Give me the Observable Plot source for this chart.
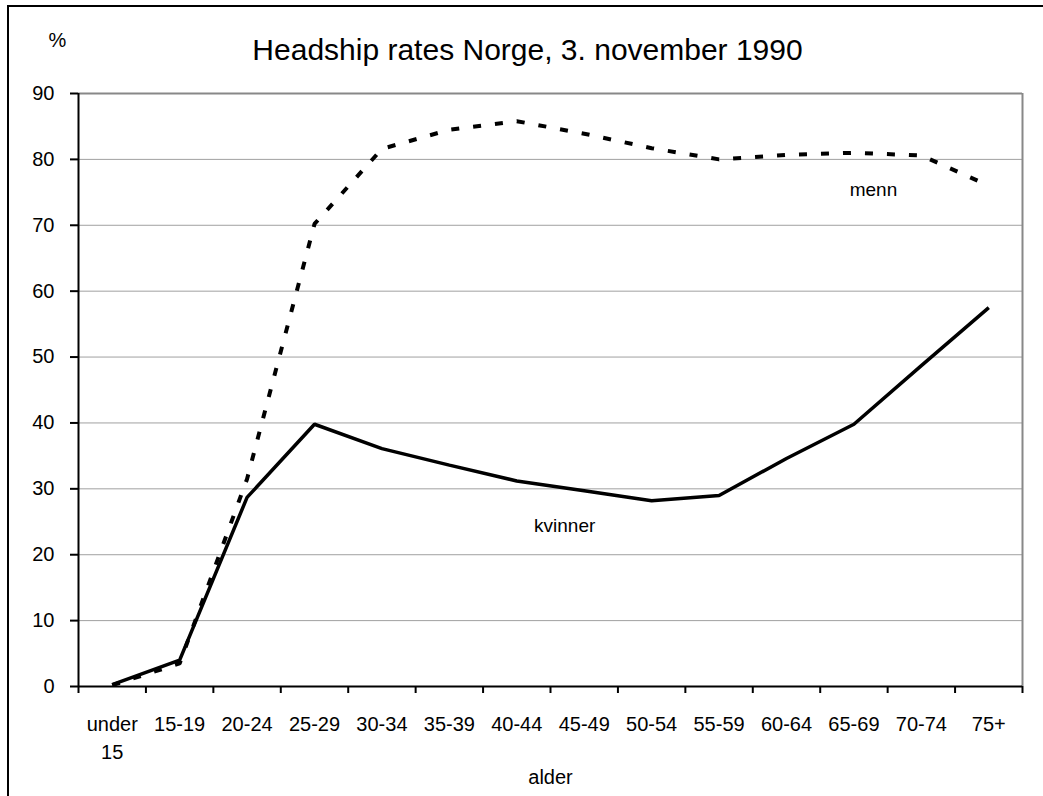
<!DOCTYPE html>
<html>
<head>
<meta charset="utf-8">
<script src="https://cdn.jsdelivr.net/npm/d3@7"></script>
<script src="https://cdn.jsdelivr.net/npm/@observablehq/plot@0.6"></script>
<style>
  html, body { margin: 0; padding: 0; background: white; }
  #wrap { position: relative; width: 1043px; height: 796px; overflow: hidden; }
  #border { position: absolute; left: 7px; top: 5px; width: 1100px; height: 900px; border: 2.5px solid black; box-sizing: border-box; pointer-events: none; }
</style>
</head>
<body>
<div id="wrap"><div id="border"></div></div>
<script>
const title = "Headship rates Norge, 3. november 1990";
const yUnit = "%";
const xTitle = "alder";
const ageGroups = ["under 15", "15-19", "20-24", "25-29", "30-34", "35-39", "40-44", "45-49", "50-54", "55-59", "60-64", "65-69", "70-74", "75+"];
const menn    = [0.2, 3.5, 31.5, 70.2, 81.6, 84.5, 85.8, 83.9, 81.7, 80.0, 80.7, 81.0, 80.6, 76.0];
const kvinner = [0.3, 4.0, 28.7, 39.8, 36.1, 33.6, 31.2, 29.7, 28.2, 29.0, 34.6, 39.8, 48.7, 57.5];
const yTicks = [0, 10, 20, 30, 40, 50, 60, 70, 80, 90];
const seriesLabels = [
  {name: "menn", x: 11.29, y: 75.4},
  {name: "kvinner", x: 6.71, y: 24.3}
];

const idx = ageGroups.map((_, i) => i);
const boundaries = ageGroups.map((_, i) => i - 0.5).concat([ageGroups.length - 0.5]);
const mennData = menn.map((v, i) => ({i, v}));
const kvinnerData = kvinner.map((v, i) => ({i, v}));
const font = "'Liberation Sans', Arial, sans-serif";

const chart = Plot.plot({
  width: 1043,
  height: 796,
  marginLeft: 78,
  marginRight: 21,
  marginTop: 93,
  marginBottom: 110,
  style: {fontFamily: font, fontSize: "20px", color: "black", background: "transparent", overflow: "visible"},
  x: {type: "linear", domain: [-0.5, ageGroups.length - 0.5]},
  y: {domain: [0, 90]},
  marks: [
    Plot.ruleY(yTicks.filter(t => t > 0 && t < 90), {stroke: "#a0a0a0", strokeWidth: 1}),
    Plot.ruleY([90], {stroke: "#888", strokeWidth: 2}),
    Plot.ruleX([ageGroups.length - 0.5], {stroke: "#888", strokeWidth: 2}),
    Plot.axisY(yTicks, {tickSize: 8, tickPadding: 16, strokeWidth: 2, label: null, fontSize: 20}),
    Plot.axisX(boundaries, {tickSize: 7, strokeWidth: 2, tickFormat: () => "", label: null}),
    Plot.axisX(idx, {tickSize: 0, tickPadding: 25, tickFormat: i => ageGroups[i].replace(" ", "\n"), lineHeight: 1.4, label: null, fontSize: 20}),
    Plot.ruleX([-0.5], {stroke: "black", strokeWidth: 2}),
    Plot.ruleY([0], {stroke: "black", strokeWidth: 2}),
    Plot.line(mennData, {x: "i", y: "v", stroke: "black", strokeWidth: 4, strokeDasharray: "8,14", strokeLinecap: "butt", strokeLinejoin: "miter"}),
    Plot.line(kvinnerData, {x: "i", y: "v", stroke: "black", strokeWidth: 3.5, strokeLinecap: "butt", strokeLinejoin: "miter"}),
    Plot.text(seriesLabels, {x: "x", y: "y", text: "name", fontSize: 19, textAnchor: "middle", lineAnchor: "middle"}),
    Plot.text([title], {frameAnchor: "top", dx: -23, dy: -34, fontSize: 30, lineAnchor: "bottom"}),
    Plot.text([yUnit], {frameAnchor: "top-left", dx: -21, dy: -47, fontSize: 20, textAnchor: "middle", lineAnchor: "bottom"}),
    Plot.text([xTitle], {frameAnchor: "bottom", dy: 97, fontSize: 20, lineAnchor: "bottom"})
  ]
});
chart.style.position = "absolute";
chart.style.left = "0px";
chart.style.top = "0px";
document.getElementById("wrap").prepend(chart);
</script>
</body>
</html>
